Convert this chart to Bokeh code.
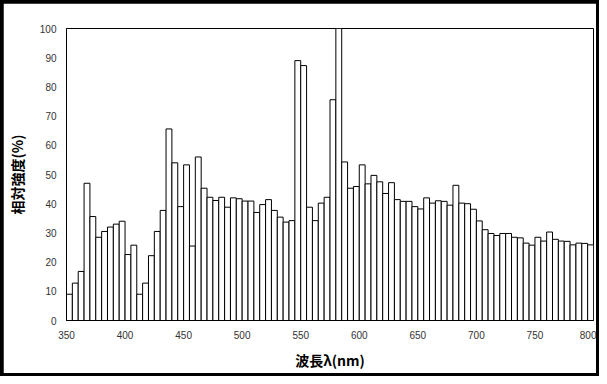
from bokeh.plotting import figure
from bokeh.layouts import column
from bokeh.models import Range1d, FixedTicker
from bokeh.embed import file_html
from bokeh.resources import INLINE

# wavelength (nm), left edge of each 5 nm bin
wavelengths = list(range(350, 800, 5))
# relative intensity (%)
intensity = [
    9.0, 12.8, 16.8, 47.0, 35.6, 28.5, 30.5, 32.0, 33.0, 34.0,   # 350-395
    22.6, 25.8, 9.0, 12.8, 22.2, 30.5, 37.7, 65.6, 54.0, 39.0,   # 400-445
    53.3, 25.5, 56.0, 45.3, 42.2, 41.1, 42.2, 38.8, 42.0, 41.7,  # 450-495
    40.9, 40.9, 37.0, 39.7, 41.4, 37.7, 35.4, 33.7, 34.2, 89.0,  # 500-545
    87.3, 38.8, 34.2, 40.2, 42.2, 75.6, 100.0, 54.3, 45.3, 45.9, # 550-595
    53.3, 46.8, 49.7, 47.5, 43.5, 47.2, 41.4, 40.8, 40.8, 39.0,  # 600-645
    38.2, 42.0, 40.2, 41.0, 40.8, 39.5, 46.3, 40.2, 40.0, 38.1,  # 650-695
    34.1, 31.1, 29.8, 29.1, 29.8, 29.8, 28.5, 28.3, 26.5, 25.8,  # 700-745
    28.5, 27.2, 30.3, 27.8, 27.2, 27.1, 25.9, 26.5, 26.4, 25.9,  # 750-795
]
x_ticks = list(range(350, 801, 50))
y_ticks = list(range(0, 101, 10))
bin_width = 5

centers = [w + bin_width / 2 for w in wavelengths]

p = figure(
    width=593, height=370,
    x_range=Range1d(350, 800), y_range=Range1d(0, 100),
    output_backend="svg", toolbar_location=None,
    min_border_left=59, min_border_right=3,
    min_border_top=25, min_border_bottom=53,
)
p.margin = (3, 3, 3, 3)
p.vbar(x=centers, top=intensity, bottom=0, width=bin_width,
       fill_color="white", line_color="black", line_width=1)

p.xgrid.visible = False
p.ygrid.visible = False
p.outline_line_color = "black"
p.outline_line_width = 1
p.background_fill_color = "white"
p.border_fill_color = "white"

for ax in (p.xaxis[0], p.yaxis[0]):
    ax.axis_line_color = "black"
    ax.axis_line_width = 1
    ax.major_tick_out = 0
    ax.major_tick_in = 0
    ax.minor_tick_out = 0
    ax.minor_tick_in = 0
    ax.major_label_text_font = "Liberation Sans"
    ax.major_label_text_font_size = "10px"
    ax.major_label_text_color = "#333333"
    ax.axis_label_text_font = "Noto Sans CJK JP"
    ax.axis_label_text_font_size = "14px"
    ax.axis_label_text_font_style = "bold"
    ax.axis_label_text_color = "black"

p.xaxis.ticker = FixedTicker(ticks=x_ticks)
p.yaxis.ticker = FixedTicker(ticks=y_ticks)
p.xaxis.axis_label = "波長λ(nm)"
p.yaxis.axis_label = "相対強度(%)"
p.xaxis.major_label_standoff = 10
p.xaxis.axis_label_standoff = 8
p.yaxis.major_label_standoff = 10
p.yaxis.axis_label_standoff = 10

# black backing shows as a thick frame around the whole picture
layout = column(p, styles={"background-color": "black"})

open("out.html", "w").write(file_html(layout, INLINE))
